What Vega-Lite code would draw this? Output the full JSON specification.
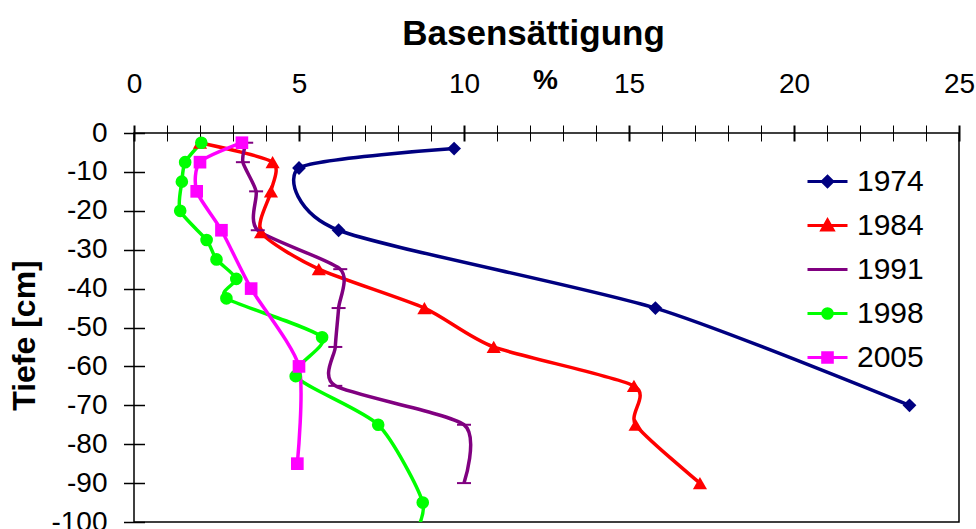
{
  "$schema": "https://vega.github.io/schema/vega-lite/v6.json",
  "width": 825,
  "height": 389,
  "autosize": {"type": "none"},
  "padding": {"left": 134, "top": 133, "right": 17, "bottom": 7},
  "background": "white",
  "title": {
    "text": "Basensättigung",
    "font": "Liberation Sans",
    "fontSize": 35,
    "fontWeight": "bold",
    "color": "black",
    "anchor": "middle",
    "frame": "group",
    "dx": -13,
    "offset": 14
  },
  "config": {
    "view": {"stroke": "black", "strokeWidth": 1.5},
    "font": "Liberation Sans"
  },
  "data": {
    "values": [
      {"year": "1974", "depth": -4, "bs": 9.7},
      {"year": "1974", "depth": -9, "bs": 5.0},
      {"year": "1974", "depth": -25, "bs": 6.2},
      {"year": "1974", "depth": -45, "bs": 15.8},
      {"year": "1974", "depth": -70, "bs": 23.5},
      {"year": "1984", "depth": -2.5, "bs": 2.0},
      {"year": "1984", "depth": -7.5, "bs": 4.2},
      {"year": "1984", "depth": -15, "bs": 4.15},
      {"year": "1984", "depth": -25.5, "bs": 3.85},
      {"year": "1984", "depth": -35, "bs": 5.6},
      {"year": "1984", "depth": -45, "bs": 8.8},
      {"year": "1984", "depth": -55, "bs": 10.9},
      {"year": "1984", "depth": -65, "bs": 15.15},
      {"year": "1984", "depth": -75, "bs": 15.2},
      {"year": "1984", "depth": -90, "bs": 17.15},
      {"year": "1991", "depth": -2.5, "bs": 3.4},
      {"year": "1991", "depth": -7.5, "bs": 3.3},
      {"year": "1991", "depth": -15, "bs": 3.7},
      {"year": "1991", "depth": -25, "bs": 3.75},
      {"year": "1991", "depth": -35, "bs": 6.25},
      {"year": "1991", "depth": -45, "bs": 6.2},
      {"year": "1991", "depth": -55, "bs": 6.1},
      {"year": "1991", "depth": -65, "bs": 6.1},
      {"year": "1991", "depth": -75, "bs": 10.0},
      {"year": "1991", "depth": -90, "bs": 10.0},
      {"year": "1998", "depth": -2.5, "bs": 2.04},
      {"year": "1998", "depth": -7.5, "bs": 1.55},
      {"year": "1998", "depth": -12.5, "bs": 1.45},
      {"year": "1998", "depth": -20, "bs": 1.4},
      {"year": "1998", "depth": -27.5, "bs": 2.2},
      {"year": "1998", "depth": -32.5, "bs": 2.5},
      {"year": "1998", "depth": -37.5, "bs": 3.1},
      {"year": "1998", "depth": -42.5, "bs": 2.8},
      {"year": "1998", "depth": -52.5, "bs": 5.7},
      {"year": "1998", "depth": -62.5, "bs": 4.9},
      {"year": "1998", "depth": -75, "bs": 7.4},
      {"year": "1998", "depth": -95, "bs": 8.75},
      {"year": "1998", "depth": -105, "bs": 8.4},
      {"year": "2005", "depth": -2.5, "bs": 3.27},
      {"year": "2005", "depth": -7.5, "bs": 2.0},
      {"year": "2005", "depth": -15, "bs": 1.9},
      {"year": "2005", "depth": -25, "bs": 2.65},
      {"year": "2005", "depth": -40, "bs": 3.55},
      {"year": "2005", "depth": -60, "bs": 5.0},
      {"year": "2005", "depth": -85, "bs": 4.95}
    ]
  },
  "encoding": {
    "x": {
      "field": "bs",
      "type": "quantitative",
      "scale": {"domain": [0, 25], "nice": false, "zero": false},
      "axis": {
        "orient": "top",
        "values": [0,1,2,3,4,5,6,7,8,9,10,11,12,13,14,15,16,17,18,19,20,21,22,23,24,25],
        "labelExpr": "datum.value % 5 === 0 ? datum.label : ''",
        "domain": false,
        "grid": false,
        "offset": -8,
        "tickSize": 16,
        "tickColor": "black",
        "tickWidth": {"condition": {"test": "datum.value % 5 === 0", "value": 2}, "value": 1},
        "labelFont": "Liberation Sans",
        "labelFontSize": 28,
        "labelColor": "black",
        "labelPadding": 41,
        "labelBaseline": "middle",
        "labelFlush": false,
        "labelOverlap": false,
        "title": "%",
        "titleFont": "Liberation Sans",
        "titleFontSize": 28,
        "titleFontWeight": "bold",
        "titleColor": "black",
        "titleX": 411,
        "titleY": -61,
        "titleAlign": "center",
        "titleBaseline": "middle"
      }
    },
    "y": {
      "field": "depth",
      "type": "quantitative",
      "scale": {"domain": [-100, 0], "nice": false, "zero": false},
      "axis": {
        "values": [0,-10,-20,-30,-40,-50,-60,-70,-80,-90,-100],
        "labelExpr": "datum.value == 0 ? '0' : '-' + format(-datum.value, 'd')",
        "domain": false,
        "grid": false,
        "offset": -10.5,
        "tickSize": 21,
        "tickColor": "black",
        "tickWidth": 1.5,
        "labelFont": "Liberation Sans",
        "labelFontSize": 28,
        "labelColor": "black",
        "labelPadding": 16.5,
        "labelFlush": false,
        "labelOverlap": false,
        "title": "Tiefe [cm]",
        "titleFont": "Liberation Sans",
        "titleFontSize": 32,
        "titleFontWeight": "bold",
        "titleColor": "black",
        "titleAngle": 270,
        "titleX": -120,
        "titleY": 202,
        "titleAlign": "center",
        "titleBaseline": "middle"
      }
    },
    "color": {
      "field": "year",
      "type": "nominal",
      "scale": {
        "domain": ["1974", "1984", "1991", "1998", "2005"],
        "range": ["#000080", "#ff0000", "#800080", "#00ff00", "#ff00ff"]
      },
      "legend": {
        "orient": "none",
        "legendX": 672,
        "legendY": 27,
        "title": null,
        "padding": 0,
        "symbolSize": 1600,
        "symbolStrokeWidth": 3,
        "labelFont": "Liberation Sans",
        "labelFontSize": 30,
        "labelColor": "black",
        "labelOffset": 8,
        "labelLimit": 200,
        "rowPadding": 7,
        "encoding": {
          "symbols": {
            "shape": {"value": {"expr": "datum.value === '1974' ? 'M-1,0H1M0,-0.26L0.26,0L0,0.26L-0.26,0Z' : datum.value === '1984' ? 'M-1,0H1M0,-0.27L0.28,0.22L-0.28,0.22Z' : datum.value === '1991' ? 'M-1,0H1' : datum.value === '1998' ? 'M-1,0H1M0.24,0A0.24,0.24 0 1,1 -0.24,0A0.24,0.24 0 1,1 0.24,0Z' : 'M-1,0H1M-0.24,-0.24H0.24V0.24H-0.24Z'"}},
            "fill": {"value": {"expr": "scale('color', datum.value)"}},
            "stroke": {"value": {"expr": "scale('color', datum.value)"}},
            "strokeWidth": {"value": 3},
            "opacity": {"value": 1}
          }
        }
      }
    }
  },
  "layer": [
    {
      "mark": {"type": "line", "interpolate": "cardinal", "tension": 0.3, "strokeWidth": 3.5, "clip": true},
      "encoding": {
        "order": {"field": "depth", "sort": "descending"}
      }
    },
    {
      "transform": [{"filter": "datum.year === '1974'"}],
      "mark": {"type": "point", "shape": "diamond", "filled": true, "size": 190, "opacity": 1}
    },
    {
      "transform": [{"filter": "datum.year === '1984'"}],
      "mark": {"type": "point", "shape": "triangle-up", "filled": true, "size": 200, "opacity": 1}
    },
    {
      "transform": [{"filter": "datum.year === '1991'"}],
      "mark": {"type": "point", "shape": "M-1,0H1", "filled": false, "size": 196, "strokeWidth": 2, "opacity": 1}
    },
    {
      "transform": [{"filter": "datum.year === '1998' && datum.depth >= -100"}],
      "mark": {"type": "point", "shape": "circle", "filled": true, "size": 160, "opacity": 1}
    },
    {
      "transform": [{"filter": "datum.year === '2005'"}],
      "mark": {"type": "point", "shape": "square", "filled": true, "size": 160, "opacity": 1}
    }
  ]
}
